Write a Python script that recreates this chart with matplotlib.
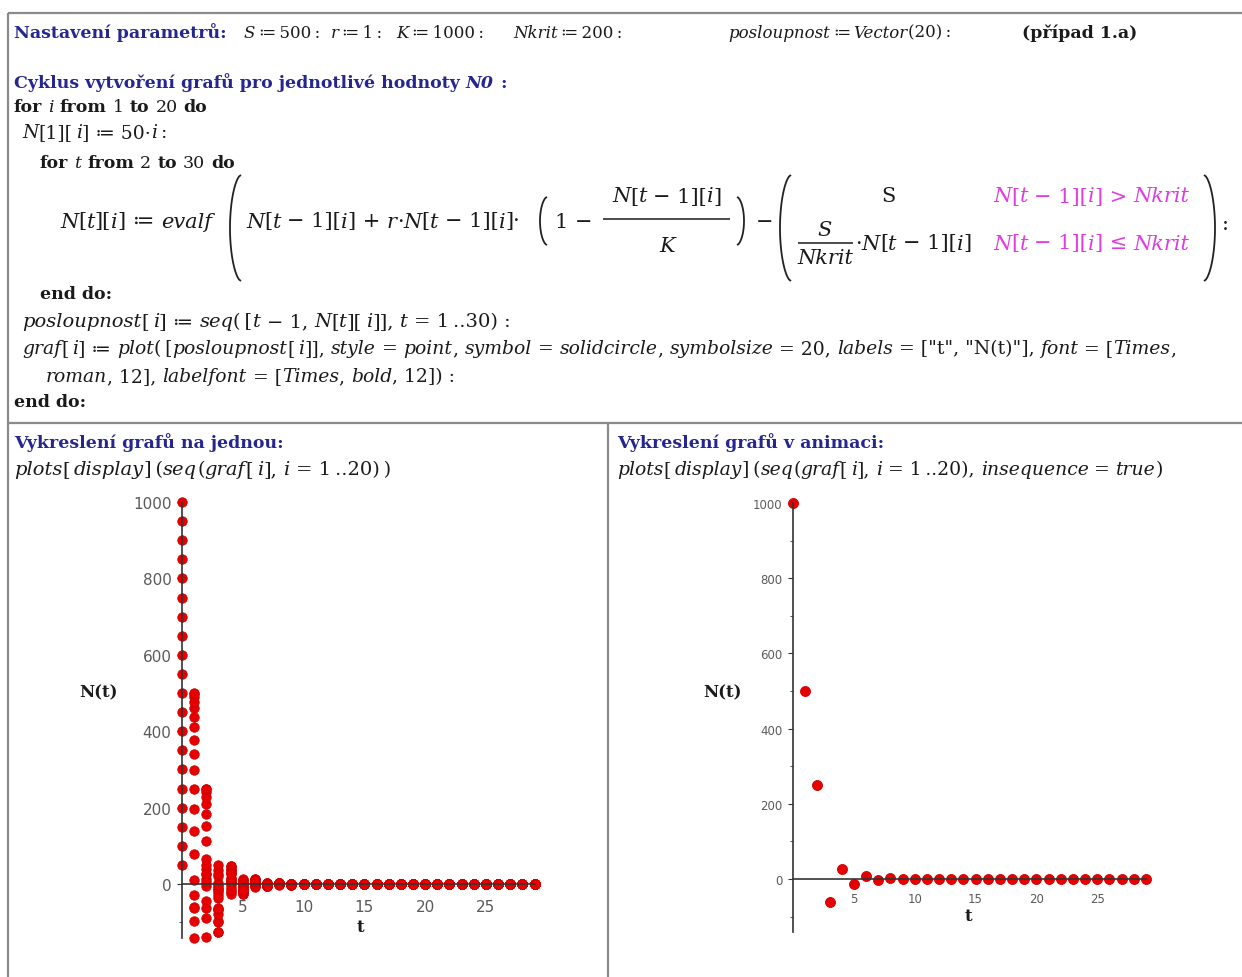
import matplotlib
matplotlib.use("Agg")
import matplotlib.pyplot as plt
from matplotlib.lines import Line2D
import numpy as np

# ---------------- data ----------------
t_values = list(range(30))
x_ticks = [5, 10, 15, 20, 25]
y_ticks = [0, 200, 400, 600, 800, 1000]
y_minor = [-100, 100, 300, 500, 700, 900]

N050 = [50, -27.5, 13.0, -6.7, 3.3, -1.6, 0.8, -0.4, 0.2, -0.1, 0.1,
        0, 0, 0, 0, 0, 0, 0, 0, 0, 0, 0, 0, 0, 0, 0, 0, 0, 0, 0]
N100 = [100, -60, 26.4, -13.9, 6.8, -3.4, 1.7, -0.9, 0.4, -0.2, 0.1,
        0, 0, 0, 0, 0, 0, 0, 0, 0, 0, 0, 0, 0, 0, 0, 0, 0, 0, 0]
N150 = [150, -97.5, 39.2, -21.2, 10.1, -5.2, 2.6, -1.3, 0.6, -0.3, 0.2,
        0, 0, 0, 0, 0, 0, 0, 0, 0, 0, 0, 0, 0, 0, 0, 0, 0, 0, 0]
N200 = [200, -140, 50.4, -27.7, 13.1, -6.7, 3.3, -1.7, 0.8, -0.4, 0.2, -0.1,
        0, 0, 0, 0, 0, 0, 0, 0, 0, 0, 0, 0, 0, 0, 0, 0, 0, 0]
N250 = [250, -62.5, 27.3, -14.4, 7.0, -3.5, 1.8, -0.9, 0.4, -0.2, 0.1,
        0, 0, 0, 0, 0, 0, 0, 0, 0, 0, 0, 0, 0, 0, 0, 0, 0, 0, 0]
N300 = [300, 10, -5.1, 2.5, -1.3, 0.6, -0.3, 0.2, -0.1,
        0, 0, 0, 0, 0, 0, 0, 0, 0, 0, 0, 0, 0, 0, 0, 0, 0, 0, 0, 0, 0]
N350 = [350, 77.5, -44.8, 20.4, -10.6, 5.2, -2.6, 1.3, -0.7, 0.3, -0.2, 0.1,
        0, 0, 0, 0, 0, 0, 0, 0, 0, 0, 0, 0, 0, 0, 0, 0, 0, 0]
N400 = [400, 140, -89.6, 36.8, -19.7, 9.5, -4.8, 2.4, -1.2, 0.6, -0.3, 0.2,
        0, 0, 0, 0, 0, 0, 0, 0, 0, 0, 0, 0, 0, 0, 0, 0, 0, 0]
N450 = [450, 197.5, -137.8, 49.9, -27.4, 13.0, -6.7, 3.3, -1.7, 0.8, -0.4, 0.2,
        0, 0, 0, 0, 0, 0, 0, 0, 0, 0, 0, 0, 0, 0, 0, 0, 0, 0]
N500 = [500, 250, -62.5, 27.3, -14.4, 7.0, -3.5, 1.8, -0.9, 0.4, -0.2, 0.1,
        0, 0, 0, 0, 0, 0, 0, 0, 0, 0, 0, 0, 0, 0, 0, 0, 0, 0]
N550 = [550, 297.5, 6.5, -3.3, 1.6, -0.8, 0.4, -0.2, 0.1,
        0, 0, 0, 0, 0, 0, 0, 0, 0, 0, 0, 0, 0, 0, 0, 0, 0, 0, 0, 0, 0]
N600 = [600, 340, 64.4, -36.4, 16.9, -8.7, 4.3, -2.2, 1.1, -0.5, 0.3, -0.1,
        0, 0, 0, 0, 0, 0, 0, 0, 0, 0, 0, 0, 0, 0, 0, 0, 0, 0]
N650 = [650, 377.5, 112.5, -68.9, 29.7, -15.7, 7.6, -3.9, 1.9, -1.0, 0.5, -0.2, 0.1,
        0, 0, 0, 0, 0, 0, 0, 0, 0, 0, 0, 0, 0, 0, 0, 0, 0]
N700 = [700, 410, 151.9, -99.0, 39.7, -21.4, 10.3, -5.2, 2.6, -1.3, 0.7, -0.3, 0.2,
        0, 0, 0, 0, 0, 0, 0, 0, 0, 0, 0, 0, 0, 0, 0, 0, 0]
N750 = [750, 437.5, 183.6, -125.5, 47.0, -25.7, 12.2, -6.2, 3.1, -1.6, 0.8, -0.4, 0.2,
        0, 0, 0, 0, 0, 0, 0, 0, 0, 0, 0, 0, 0, 0, 0, 0, 0]
N800 = [800, 460, 208.4, -126.6, 47.3, -25.9, 12.3, -6.3, 3.1, -1.6, 0.8, -0.4, 0.2,
        0, 0, 0, 0, 0, 0, 0, 0, 0, 0, 0, 0, 0, 0, 0, 0, 0]
N850 = [850, 477.5, 227.0, -97.6, 39.3, -21.2, 10.1, -5.2, 2.6, -1.3, 0.6, -0.3, 0.2,
        0, 0, 0, 0, 0, 0, 0, 0, 0, 0, 0, 0, 0, 0, 0, 0, 0]
N900 = [900, 490, 239.9, -77.8, 32.8, -17.5, 8.4, -4.3, 2.1, -1.1, 0.5, -0.3, 0.1,
        0, 0, 0, 0, 0, 0, 0, 0, 0, 0, 0, 0, 0, 0, 0, 0, 0]
N950 = [950, 497.5, 247.5, -66.3, 28.7, -15.2, 7.4, -3.7, 1.9, -0.9, 0.5, -0.2, 0.1,
        0, 0, 0, 0, 0, 0, 0, 0, 0, 0, 0, 0, 0, 0, 0, 0, 0]
N1000 = [1000, 500, 250, -62.5, 27.3, -14.4, 7.0, -3.5, 1.8, -0.9, 0.4, -0.2, 0.1,
         0, 0, 0, 0, 0, 0, 0, 0, 0, 0, 0, 0, 0, 0, 0, 0, 0]

series = [N050, N100, N150, N200, N250, N300, N350, N400, N450, N500,
          N550, N600, N650, N700, N750, N800, N850, N900, N950, N1000]
last_frame = N1000

# ---------------- figure ----------------
W, H = 1242, 978
fig = plt.figure(figsize=(W / 100, H / 100), dpi=100)
fig.patch.set_facecolor("white")
renderer = fig.canvas.get_renderer()

SERIF = ["DejaVu Serif", "DejaVu Sans"]
BLUE = "#262690"
MAG = "#e03ce0"
INK = "#1a1a1a"
STY = {
    "H": dict(color=BLUE, fontweight="bold", fontstyle="normal"),
    "HI": dict(color=BLUE, fontweight="bold", fontstyle="italic"),
    "B": dict(color=INK, fontweight="bold", fontstyle="normal"),
    "I": dict(color=INK, fontweight="normal", fontstyle="italic"),
    "R": dict(color=INK, fontweight="normal", fontstyle="normal"),
    "M": dict(color=MAG, fontweight="normal", fontstyle="italic"),
    "MR": dict(color=MAG, fontweight="normal", fontstyle="normal"),
}
FS = 12.5      # headings / keywords
FS1 = 12       # inline math of the first line
FC = 13.5      # code lines
FF = 15        # the displayed formula
TS = "\u2009"  # thin space


def fx(x):
    return x / W


def fy(y):
    return 1 - y / H


_cache = {}


def measure(s, st, size):
    key = (s, st, size)
    if key in _cache:
        return _cache[key]
    t1 = fig.text(0, 0, "|" + s + "|", fontsize=size, family=SERIF, **STY[st])
    w1 = t1.get_window_extent(renderer).width
    t1.remove()
    t2 = fig.text(0, 0, "||", fontsize=size, family=SERIF, **STY[st])
    w2 = t2.get_window_extent(renderer).width
    t2.remove()
    _cache[key] = w1 - w2
    return w1 - w2


def runs(x, y, parts, size=FS, ha="left"):
    total = sum(measure(s, st, size) for s, st in parts)
    if ha == "center":
        x -= total / 2
    for s, st in parts:
        core = s.strip(" " + TS)
        if core:
            lead = s[: len(s) - len(s.lstrip(" " + TS))]
            xd = x + (measure(lead, st, size) if lead else 0)
            fig.text(fx(xd), fy(y), core, fontsize=size, family=SERIF,
                     va="center", ha="left", **STY[st])
        x += measure(s, st, size)
    return x


def fline(xs, ys, color="#222222", lw=1.2):
    fig.add_artist(Line2D([fx(v) for v in xs], [fy(v) for v in ys],
                          transform=fig.transFigure, color=color, lw=lw,
                          solid_capstyle="butt"))


def paren(xe, ytop, ybot, w, side, lw=1.3):
    s = np.linspace(-1, 1, 80)
    ys = (ytop + ybot) / 2 + s * (ybot - ytop) / 2
    bulge = w * (1 - s ** 2) ** 0.6
    xs = xe - bulge if side == "L" else xe + bulge
    fline(xs, ys, lw=lw)


# ---------------- worksheet frame ----------------
GRAY = "#8a8a8a"
fline([8, 1242], [14, 14], GRAY, 1.6)
fline([8, 8], [14, 978], GRAY, 1.6)
fline([8, 1242], [424, 424], GRAY, 1.6)
fline([608, 608], [424, 978], GRAY, 1.6)

# ---------------- worksheet text ----------------
A = TS + "≔" + TS
y1 = 33
runs(14, y1, [("Nastavení parametrů:", "H")])
runs(244, y1, [("S", "I"), (A + "500" + TS + ":", "R")], size=FS1)
runs(331, y1, [("r", "I"), (A + "1" + TS + ":", "R")], size=FS1)
runs(396, y1, [("K", "I"), (A + "1000" + TS + ":", "R")], size=FS1)
runs(513, y1, [("Nkrit", "I"), (A + "200" + TS + ":", "R")], size=FS1)
runs(728, y1, [("posloupnost", "I"), (A, "R"), ("Vector", "I"), ("(20)" + TS + ":", "R")],
     size=FS1)
runs(1022, y1, [("(případ 1.a)", "B")])

runs(14, 83, [("Cyklus vytvoření grafů pro jednotlivé hodnoty ", "H"), ("N0", "HI"), (" :", "H")])
runs(14, 108, [("for ", "B"), ("i", "I"), (" from ", "B"), ("1", "R"), (" to ", "B"),
               ("20", "R"), (" do", "B")])
runs(22, 133, [("N", "I"), ("[1][" + TS, "R"), ("i", "I"), ("] ≔ 50·", "R"), ("i", "I"),
               (TS + ":", "R")], size=FC)
runs(40, 163, [("for ", "B"), ("t", "I"), (" from ", "B"), ("2", "R"), (" to ", "B"),
               ("30", "R"), (" do", "B")])

# formula row
ym = 222
runs(60, ym, [("N", "I"), ("[", "R"), ("t", "I"), ("][", "R"), ("i", "I"), ("] ≔ ", "R"),
              ("evalf", "I")], size=FF)
paren(241, 176, 282, 11, "L")
runs(246, ym, [("N", "I"), ("[", "R"), ("t", "I"), (" − 1][", "R"), ("i", "I"), ("] + ", "R"),
               ("r", "I"), ("·", "R"), ("N", "I"), ("[", "R"), ("t", "I"), (" − 1][", "R"),
               ("i", "I"), ("]·", "R")], size=FF)
paren(547, 198, 246, 7, "L")
runs(555, ym, [("1 −", "R")], size=FF)
runs(667, 197, [("N", "I"), ("[", "R"), ("t", "I"), (" − 1][", "R"), ("i", "I"), ("]", "R")],
     size=FF, ha="center")
fline([603, 730], [220, 220], INK, 1.1)
runs(667, 246, [("K", "I")], size=FF, ha="center")
paren(737, 198, 246, 7, "R")
runs(756, ym, [("−", "R")], size=FF)
paren(791, 176, 282, 11, "L")
runs(888, 197, [("S", "R")], size=FF, ha="center")
runs(993, 197, [("N", "M"), ("[", "MR"), ("t", "M"), (" − 1][", "MR"), ("i", "M"),
                ("] > ", "MR"), ("Nkrit", "M")], size=FF)
runs(825, 230, [("S", "I")], size=FF, ha="center")
fline([798, 853], [244, 244], INK, 1.1)
runs(825, 259, [("Nkrit", "I")], size=FF, ha="center")
runs(855, 244, [("·", "R"), ("N", "I"), ("[", "R"), ("t", "I"), (" − 1][", "R"), ("i", "I"),
                ("]", "R")], size=FF)
runs(993, 244, [("N", "M"), ("[", "MR"), ("t", "M"), (" − 1][", "MR"), ("i", "M"),
                ("] ≤ ", "MR"), ("Nkrit", "M")], size=FF)
paren(1204, 176, 282, 11, "R")
runs(1222, 224, [(":", "R")], size=FF)

runs(40, 295, [("end do:", "B")])
runs(22, 322, [("posloupnost", "I"), ("[" + TS, "R"), ("i", "I"), ("] ≔ ", "R"), ("seq", "I"),
               ("(" + TS + "[", "R"), ("t", "I"), (" − 1, ", "R"), ("N", "I"), ("[", "R"),
               ("t", "I"), ("][" + TS, "R"), ("i", "I"), ("]], ", "R"), ("t", "I"),
               (" = 1" + TS + "..30) :", "R")], size=FC + 0.5)
runs(22, 349, [("graf", "I"), ("[" + TS, "R"), ("i", "I"), ("] ≔ ", "R"), ("plot", "I"),
               ("(" + TS + "[", "R"), ("posloupnost", "I"), ("[" + TS, "R"), ("i", "I"),
               ("]], ", "R"),
               ("style", "I"), (" = ", "R"), ("point", "I"), (", ", "R"),
               ("symbol", "I"), (" = ", "R"), ("solidcircle", "I"), (", ", "R"),
               ("symbolsize", "I"), (" = 20, ", "R"), ("labels", "I"),
               (" = [\"t\", \"N(t)\"], ", "R"), ("font", "I"), (" = [", "R"),
               ("Times", "I"), (",", "R")], size=FC)
runs(46, 377, [("roman", "I"), (", 12], ", "R"), ("labelfont", "I"), (" = [", "R"),
               ("Times", "I"), (", ", "R"), ("bold", "I"), (", 12]) :", "R")], size=FC)
runs(14, 403, [("end do:", "B")])

runs(14, 443, [("Vykreslení grafů na jednou:", "H")])
runs(14, 470, [("plots", "I"), ("[" + TS, "R"), ("display", "I"), ("]" + TS + "(", "R"),
               ("seq", "I"), ("(", "R"), ("graf", "I"), ("[" + TS, "R"), ("i", "I"),
               ("], ", "R"), ("i", "I"), (" = 1" + TS + "..20)" + TS + ")", "R")],
     size=FC + 0.5)
runs(617, 443, [("Vykreslení grafů v animaci:", "H")])
runs(617, 470, [("plots", "I"), ("[" + TS, "R"), ("display", "I"), ("]" + TS + "(", "R"),
                ("seq", "I"), ("(", "R"), ("graf", "I"), ("[" + TS, "R"), ("i", "I"),
                ("], ", "R"), ("i", "I"), (" = 1" + TS + "..20), ", "R"),
                ("insequence", "I"), (" = ", "R"), ("true", "I"), (")", "R")], size=FC)

# ---------------- plots ----------------
RED = "#e60000"
TICKC = "#5a5a5a"


def style_axes(ax, lab_fs, xpad, ypad):
    ax.set_xlim(0, 29)
    ax.set_ylim(-140, 1000)
    ax.patch.set_visible(False)
    for side in ("top", "right"):
        ax.spines[side].set_visible(False)
    ax.spines["left"].set_position(("data", 0))
    ax.spines["bottom"].set_position(("data", 0))
    for side in ("left", "bottom"):
        ax.spines[side].set_color("#333333")
        ax.spines[side].set_linewidth(1.2)
        ax.spines[side].set_zorder(3)
    ax.set_xticks(x_ticks)
    ax.set_yticks(y_ticks)
    ax.set_yticks(y_minor, minor=True)
    ax.tick_params(axis="both", which="both", direction="out", color="#333333",
                   labelcolor=TICKC, labelsize=lab_fs)
    ax.tick_params(axis="x", which="major", length=3, pad=xpad)
    ax.tick_params(axis="y", which="major", length=3.5, pad=ypad)
    ax.tick_params(axis="y", which="minor", length=2.5)
    for lab in ax.get_xticklabels() + ax.get_yticklabels():
        lab.set_family("DejaVu Sans")


ax1 = fig.add_axes([fx(182), fy(938.5), 352.6 / W, 435.5 / H])
for row in series:
    ax1.plot(t_values, row, "o", color=RED, ms=6.8, mec="#d00000", mew=0.6,
             clip_on=False, zorder=2)
style_axes(ax1, 11, 8, 4)
ax1.set_ylabel("N(t)", rotation=0, family="DejaVu Serif", fontweight="bold",
               fontsize=12, color=INK, va="center", ha="center")
ax1.yaxis.set_label_coords((98 - 182) / 352.6, (938.5 - 693) / 435.5)
ax1.set_xlabel("t", family="DejaVu Serif", fontweight="bold", fontsize=12, color=INK,
               va="center", ha="center")
ax1.xaxis.set_label_coords((360 - 182) / 352.6, (938.5 - 928) / 435.5)

ax2 = fig.add_axes([fx(793), fy(932.6), 353.0 / W, 428.6 / H])
ax2.plot(t_values, last_frame, "o", color=RED, ms=7.2, mec="#d00000", mew=0.6,
         clip_on=False, zorder=2)
style_axes(ax2, 8.5, 6.5, 4)
ax2.set_ylabel("N(t)", rotation=0, family="DejaVu Serif", fontweight="bold",
               fontsize=12, color=INK, va="center", ha="center")
ax2.yaxis.set_label_coords((723 - 793) / 353.0, (932.6 - 693) / 428.6)
ax2.set_xlabel("t", family="DejaVu Serif", fontweight="bold", fontsize=12, color=INK,
               va="center", ha="center")
ax2.xaxis.set_label_coords((968 - 793) / 353.0, (932.6 - 917) / 428.6)

fig.savefig("out.png", dpi=100, facecolor="white")
